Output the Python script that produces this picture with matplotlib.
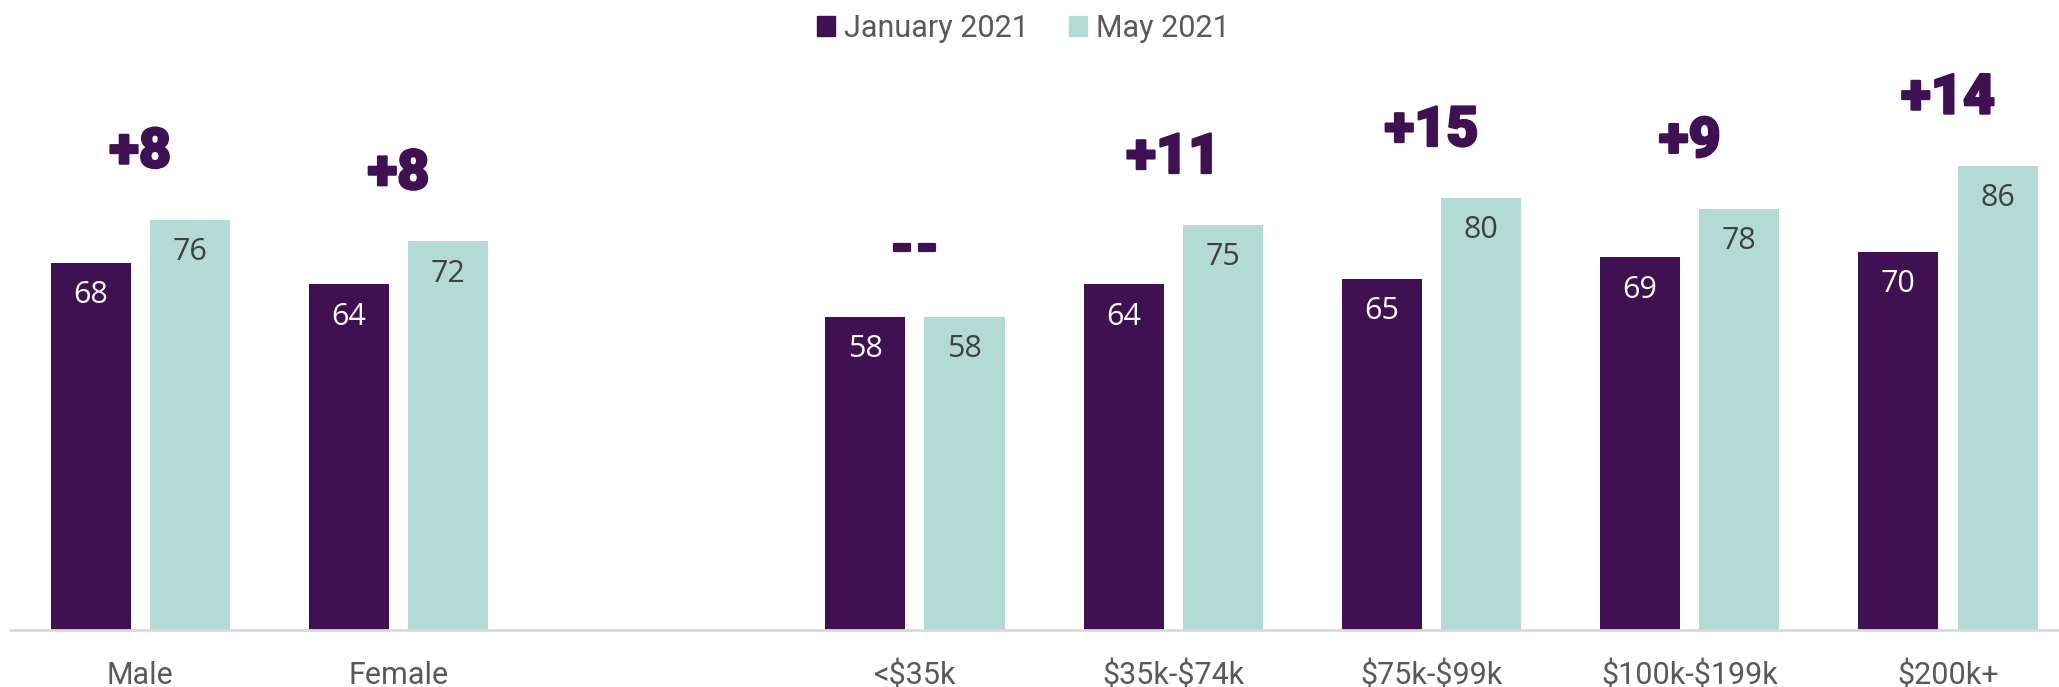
import matplotlib.pyplot as plt
import matplotlib.patheffects as pe
import numpy as np
from matplotlib.patches import Patch

plt.rcParams["text.parse_math"] = False

CATEGORIES = ["Male", "Female", "", "<$35k", "$35k-$74k", "$75k-$99k",
              "$100k-$199k", "$200k+"]
JAN_2021 = [68, 64, np.nan, 58, 64, 65, 69, 70]
MAY_2021 = [76, 72, np.nan, 58, 75, 80, 78, 86]
CHANGE_LABELS = ["+8", "+8", "", "--", "+11", "+15", "+9", "+14"]

JAN_COLOR = "#3F1052"
MAY_COLOR = "#B3DBD4"


def main() -> None:
    fig = plt.figure(figsize=(20.59, 6.87), dpi=100)
    ax = fig.add_axes([11 / 2059, 57 / 687, 1 - 11 / 2059, 540 / 687])

    x = np.arange(len(CATEGORIES))
    off, w = 0.192, 0.31
    ax.bar(x - off, JAN_2021, width=w, color=JAN_COLOR, zorder=2)
    ax.bar(x + off, MAY_2021, width=w, color=MAY_COLOR, zorder=2)

    heavy = [pe.withStroke(linewidth=1.6, foreground=JAN_COLOR)]
    for xi, j, m, lab in zip(x, JAN_2021, MAY_2021, CHANGE_LABELS):
        if np.isnan(j):
            continue
        ax.text(xi - off, j - 6, f"{j:g}", ha="center", va="center",
                fontsize=22, color="white", family="Open Sans")
        ax.text(xi + off, m - 6, f"{m:g}", ha="center", va="center",
                fontsize=22, color="#404040", family="Open Sans")
        ax.text(xi, m + 12.5, lab, ha="center", va="center", fontsize=40,
                color=JAN_COLOR, family="Roboto", fontweight="black",
                clip_on=False, path_effects=heavy)

    ax.set_xlim(-0.5, 7.43)
    ax.set_ylim(0, 100)
    ax.set_xticks(x)
    ax.set_xticklabels(CATEGORIES, fontsize=22, color="#595959",
                       family="Roboto")
    ax.tick_params(axis="x", length=0, pad=22)
    ax.set_yticks([])
    for side in ["top", "right", "left"]:
        ax.spines[side].set_visible(False)
    ax.spines["bottom"].set_color("#D9D9D9")
    ax.spines["bottom"].set_linewidth(2)

    handles = [Patch(color=JAN_COLOR, label="January 2021"),
               Patch(color=MAY_COLOR, label="May 2021")]
    fig.legend(handles=handles, loc="upper center", ncol=2,
               bbox_to_anchor=(0.497, 1.02), frameon=False,
               prop={"family": "Roboto", "size": 22},
               labelcolor="#595959", handlelength=0.6, handleheight=0.6,
               handletextpad=0.3, columnspacing=1.3)

    fig.savefig("out.png", dpi=100)
    plt.close(fig)


if __name__ == "__main__":
    main()
